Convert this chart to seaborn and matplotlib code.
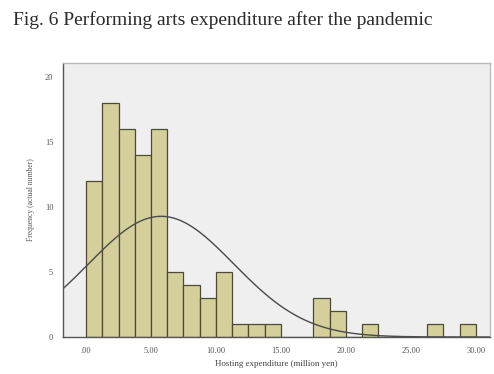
import numpy as np
import pandas as pd
import matplotlib
matplotlib.use("Agg")
import matplotlib.pyplot as plt
import seaborn as sns

# Histogram bins (million yen) and counts per bin
bin_left = [0.0, 1.25, 2.5, 3.75, 5.0, 6.25, 7.5, 8.75, 10.0, 11.25, 12.5, 13.75,
            17.5, 18.75, 21.25, 26.25, 28.75]
counts = [12, 18, 16, 14, 16, 5, 4, 3, 5, 1, 1, 1, 3, 2, 1, 1, 1]
bin_width = 1.25

# Fitted normal curve parameters
mean_exp = 5.78
sd_exp = 5.58

x_ticks = [0, 5, 10, 15, 20, 25, 30]
x_ticklabels = [".00", "5.00", "10.00", "15.00", "20.00", "25.00", "30.00"]
y_ticks = [0, 5, 10, 15, 20]

df = pd.DataFrame({"mid": np.array(bin_left) + bin_width / 2, "n": counts})

sns.set_style("white")
plt.rcParams["font.family"] = ["Liberation Serif", "DejaVu Serif"]

fig = plt.figure(figsize=(4.94, 3.74), dpi=100)
ax = fig.add_axes([63 / 494, 37 / 374, 427 / 494, 274 / 374])
ax.set_facecolor("#efefef")

sns.histplot(data=df, x="mid", weights="n", binwidth=bin_width, binrange=(0, 30),
             color="#d5cf9b", edgecolor="#4d4a33", linewidth=0.9, alpha=1, ax=ax)

# Normal curve scaled to counts
n_total = sum(counts)
xs = np.linspace(-1.8, 31.1, 400)
ys = n_total * bin_width / (sd_exp * np.sqrt(2 * np.pi)) * np.exp(-0.5 * ((xs - mean_exp) / sd_exp) ** 2)
sns.lineplot(x=xs, y=ys, color="#4a4a4a", linewidth=1.0, ax=ax)

ax.set_xlim(-1.77, 31.08)
ax.set_ylim(0, 21.1)
ax.set_xticks(x_ticks)
ax.set_xticklabels(x_ticklabels)
ax.set_yticks(y_ticks)
ax.tick_params(axis="both", direction="out", length=4, width=0.8, color="#555555",
               labelsize=6, labelcolor="#555555", pad=3)

for side in ["left", "bottom"]:
    ax.spines[side].set_color("#555555")
    ax.spines[side].set_linewidth(1.0)
for side in ["top", "right"]:
    ax.spines[side].set_visible(True)
    ax.spines[side].set_color("#bbbbbb")
    ax.spines[side].set_linewidth(1.0)

ax.set_xlabel("Hosting expenditure (million yen)", fontsize=6.5, color="#444444", labelpad=4)
ax.set_ylabel("Frequency (actual number)", fontsize=5.5, color="#555555", labelpad=7)

fig.text(13 / 494, 1 - 20 / 374, "Fig. 6 Performing arts expenditure after the pandemic",
         fontsize=14, color="#2a2a2a", va="center", ha="left")

fig.savefig("out.png", dpi=100)
